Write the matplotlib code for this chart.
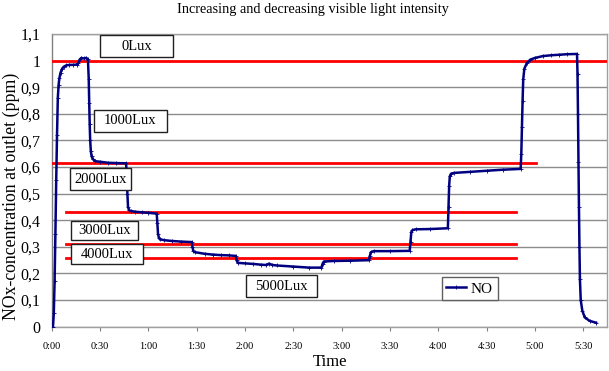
import numpy as np
import matplotlib
matplotlib.use("Agg")
import matplotlib.pyplot as plt
from matplotlib.patches import Rectangle
from matplotlib.ticker import FuncFormatter

plt.rcParams['font.family'] = ['Liberation Serif', 'DejaVu Serif']

# NO concentration (ppm) against time (minutes)
time_min = [0, 0.8, 1.3, 1.8, 2.3, 2.8, 3.3, 3.8, 4.3, 4.8, 5.5, 6.5, 7.5, 9, 11, 13, 15.5,
            16.5, 17.5, 18.5, 20, 21.5, 22.5, 23.0, 23.3, 23.6, 23.9, 24.3, 24.8, 25.5, 27,
            30, 35, 40, 46.2, 46.6, 47.0, 47.4, 48.0, 49, 52, 56, 60, 65.2,
            65.6, 66.0, 66.5, 67.5, 70, 75, 80, 87.0, 87.4, 87.9, 89, 95, 100,
            105, 110, 114.3, 114.8, 115.5, 120, 125, 130, 133, 135, 137, 140, 150,
            160, 167.5, 168.2, 169, 175, 185, 197.0, 197.5, 198.2, 200, 210, 222.3,
            222.8, 223.3, 224, 226, 235, 246.0, 246.4, 246.8, 247.2, 248, 250, 260,
            270, 280, 291.2, 291.6, 292.0, 292.4, 292.8, 293.5, 295, 297, 300, 305,
            310, 315, 320, 326.2, 326.5, 326.8, 327.1, 327.4, 327.7, 328.0, 328.5,
            329.5, 331, 334, 338]
no_ppm = [0.0, 0.0, 0.05, 0.17, 0.35, 0.55, 0.72, 0.86, 0.91, 0.935, 0.955, 0.97, 0.977, 0.982, 0.984, 0.984, 0.985,
          0.99, 1.005, 1.01, 1.008, 1.01, 1.005, 0.93, 0.84, 0.76, 0.70, 0.66, 0.64, 0.63, 0.622,
          0.62, 0.616, 0.615, 0.614, 0.57, 0.50, 0.45, 0.438, 0.435, 0.432, 0.43, 0.428, 0.425,
          0.39, 0.35, 0.335, 0.328, 0.325, 0.322, 0.32, 0.318, 0.30, 0.285, 0.28, 0.274, 0.271,
          0.269, 0.268, 0.266, 0.25, 0.24, 0.238, 0.236, 0.233, 0.232, 0.237, 0.232, 0.23, 0.226,
          0.222, 0.222, 0.237, 0.245, 0.247, 0.248, 0.25, 0.265, 0.28, 0.284, 0.284, 0.285,
          0.32, 0.355, 0.363, 0.366, 0.367, 0.37, 0.45, 0.53, 0.565, 0.575, 0.578, 0.582,
          0.586, 0.59, 0.593, 0.65, 0.75, 0.85, 0.93, 0.97, 0.99, 1.003, 1.01, 1.017,
          1.02, 1.022, 1.024, 1.025, 0.95, 0.80, 0.62, 0.45, 0.30, 0.18, 0.10,
          0.06, 0.035, 0.022, 0.015]

# light intensity levels (red lines)
level_ppm = [1.0, 0.617, 0.43, 0.312, 0.258]
level_start = [0, 0, 9, 9, 9]
level_end = [345, 301, 288.5, 288.5, 288.5]

lux_labels = ['0Lux', '1000Lux', '2000Lux', '3000Lux', '4000Lux', '5000Lux']
# boxes in figure pixels: x0, y0 (top), x1, y1 (bottom)
lux_boxes = [(100, 35, 173, 57), (94, 110, 167, 132), (70, 168, 131, 190),
             (71, 221, 138, 240), (71, 244, 143, 264), (246, 275, 317, 297)]

yticks = [0, 0.1, 0.2, 0.3, 0.4, 0.5, 0.6, 0.7, 0.8, 0.9, 1.0, 1.1]
xticks = [0, 30, 60, 90, 120, 150, 180, 210, 240, 270, 300, 330]

W, H = 609, 371
fig = plt.figure(figsize=(W / 100, H / 100), dpi=100)
ax = fig.add_axes([51.7 / W, 1 - 326.7 / H, (607.3 - 51.7) / W, (326.7 - 34) / H])

for s in ['top', 'right', 'bottom']:
    ax.spines[s].set_color('#a0a0a0')
ax.spines['left'].set_color('#808080')
for s in ax.spines.values():
    s.set_linewidth(1)

ax.set_xlim(0, 345)
ax.set_ylim(0, 1.1)
ax.set_yticks(yticks)
ax.yaxis.set_major_formatter(FuncFormatter(lambda v, p: ('%g' % round(v, 1)).replace('.', ',')))
ax.set_xticks(xticks)
ax.xaxis.set_major_formatter(FuncFormatter(lambda v, p: '%d:%02d' % (int(v) // 60, int(v) % 60)))
ax.tick_params(axis='x', labelsize=7.5, length=3, color='#808080', pad=8)
ax.tick_params(axis='y', labelsize=11.5, length=0, pad=8)
ax.grid(axis='y', color='#8c8c8c', linewidth=1)
ax.set_axisbelow(True)

for lv, a, b in zip(level_ppm, level_start, level_end):
    ax.plot([a, b], [lv, lv], color='#ff0000', linewidth=2, zorder=3)

ax.plot(time_min, no_ppm, color='#000080', linewidth=1.8, marker='+', markersize=2.5,
        markeredgewidth=0.6, label='NO', zorder=4)

for lab, (x0, y0, x1, y1) in zip(lux_labels, lux_boxes):
    fig.patches.append(Rectangle((x0 / W, 1 - y1 / H), (x1 - x0) / W, (y1 - y0) / H,
                                 transform=fig.transFigure, facecolor='white',
                                 edgecolor='#202020', linewidth=1, zorder=5))
    fig.text((x0 + x1) / 2 / W, 1 - (y0 + y1) / 2 / H, lab, ha='center', va='center',
             fontsize=10.5, zorder=6)

leg = ax.legend(loc='center', bbox_to_anchor=(469.7 / W, 1 - 288.8 / H),
                bbox_transform=fig.transFigure, fancybox=False, fontsize=11,
                handlelength=1.3, handletextpad=0.3, borderpad=0.3, framealpha=1)
leg.get_frame().set_edgecolor('#606060')

fig.text(313 / W, 1 - 10 / H, 'Increasing and decreasing visible light intensity',
         ha='center', va='center', fontsize=10.3)
fig.text(11 / W, 1 - 196 / H, 'NOx-concentration at outlet (ppm)', rotation=90,
         ha='center', va='center', fontsize=12.8)
fig.text(330 / W, 1 - 362 / H, 'Time', ha='center', va='center', fontsize=12)

fig.savefig('out.png', dpi=100)
